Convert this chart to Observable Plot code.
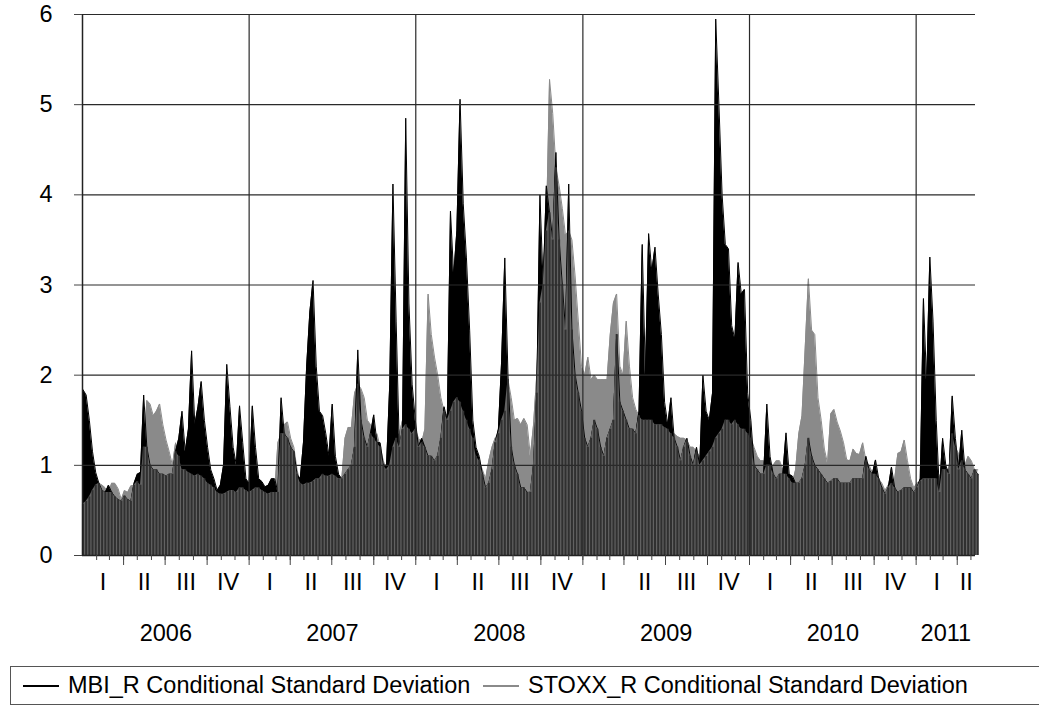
<!DOCTYPE html>
<html>
<head>
<meta charset="utf-8">
<script src="https://cdn.jsdelivr.net/npm/d3@7"></script>
<script src="https://cdn.jsdelivr.net/npm/@observablehq/plot@0.6"></script>
<style>
  body { margin: 0; background: #fff; font-family: Arial, "Liberation Sans", sans-serif; }
  #chart { position: absolute; left: 0; top: 0; }
  #legend { position: absolute; left: 10px; top: 666px; width: 1040px; height: 39px;
            border: 1px solid #555; box-sizing: border-box; font-size: 23.5px; color: #000; }
  .item { position: absolute; top: 0; height: 37px; display: flex; align-items: center; white-space: nowrap; }
  .swatch { display: inline-block; width: 36px; height: 0; border-top: 2px solid #000; margin-right: 9px; }
</style>
</head>
<body>
<div id="chart"></div>
<div id="legend">
  <div class="item" style="left:12px"><span class="swatch" style="border-color:#000"></span><span id="l1"></span></div>
  <div class="item" style="left:472px"><span class="swatch" style="border-color:#8a8a8a"></span><span id="l2"></span></div>
</div>
<script>
// Weekly readings, first week starting 2006-01-02
const firstWeek = "2006-01-02";
const mbi = [
1.84,1.78,1.5,1.15,0.92,0.8,0.72,0.7,0.78,0.7,
0.65,0.62,0.6,0.66,0.62,0.6,0.8,0.9,0.92,1.78,
1.2,1.0,0.95,0.95,0.9,0.9,0.88,0.9,0.9,1.15,
1.3,1.6,1.15,1.4,2.27,1.45,1.65,1.93,1.5,1.2,
0.95,0.85,0.72,0.78,1.0,2.12,1.65,1.2,1.0,1.66,
1.25,0.85,0.8,1.66,1.2,0.85,0.82,0.76,0.78,0.85,
0.85,0.7,1.75,1.35,1.3,1.2,1.15,0.9,0.85,1.25,
2.1,2.7,3.05,2.1,1.6,1.55,1.35,1.1,1.68,1.1,
0.9,0.85,0.9,0.95,1.0,1.2,2.28,1.5,1.3,1.2,
1.35,1.56,1.25,1.25,1.0,1.0,1.9,4.12,2.6,1.2,
1.4,4.85,2.8,1.9,1.5,1.2,1.3,1.2,1.1,1.1,
1.05,1.1,1.3,1.65,1.5,3.82,3.1,3.6,5.06,3.9,
3.3,2.5,1.5,1.2,1.1,0.9,0.75,0.8,0.95,1.25,
1.4,2.15,3.3,2.0,1.2,1.0,0.9,0.75,0.75,0.7,
0.7,1.0,1.8,4.0,3.0,4.1,3.8,3.5,4.47,3.5,
3.0,2.5,4.12,2.5,2.0,1.8,1.6,1.3,1.2,1.3,
1.5,1.4,1.2,1.1,1.3,1.4,1.5,2.45,1.7,1.6,
1.5,1.4,1.4,1.35,1.6,3.45,2.0,3.57,3.15,3.42,
2.9,2.45,1.7,1.45,1.75,1.3,1.2,1.05,1.2,1.3,
1.1,1.0,1.2,1.0,2.0,1.6,1.5,1.8,5.95,5.0,
4.0,3.45,3.4,2.55,2.4,3.25,2.9,2.95,1.8,1.5,
1.0,0.95,0.9,0.9,1.68,1.1,0.9,0.85,0.9,0.9,
1.36,0.9,0.88,0.8,0.8,0.85,1.0,1.3,1.1,1.0,
0.95,0.9,0.85,0.8,0.82,0.85,0.85,0.8,0.8,0.8,
0.8,0.85,0.85,0.85,0.85,1.1,0.95,0.9,1.06,0.85,
0.75,0.68,0.75,0.98,0.75,0.7,0.72,0.75,0.75,0.75,
0.7,0.75,0.85,2.85,1.9,3.31,2.6,1.5,0.7,1.3,
1.0,0.9,1.77,1.3,0.95,1.39,0.95,0.9,0.85,0.95,
0.9];
const stoxx = [
0.57,0.6,0.65,0.72,0.78,0.8,0.78,0.75,0.7,0.8,
0.8,0.74,0.62,0.72,0.7,0.77,0.78,0.82,0.78,1.2,
1.72,1.68,1.55,1.6,1.68,1.45,1.28,1.15,1.0,1.25,
1.1,0.95,0.95,0.92,0.9,0.88,0.9,0.88,0.85,0.8,
0.78,0.75,0.7,0.68,0.68,0.7,0.72,0.72,0.7,0.75,
0.75,0.72,0.7,0.72,0.75,0.75,0.72,0.7,0.68,0.7,
0.7,1.25,1.35,1.45,1.48,1.3,1.2,0.95,0.8,0.78,
0.8,0.8,0.82,0.85,0.85,0.9,0.88,0.88,0.9,0.88,
0.85,0.85,1.3,1.42,1.42,1.8,1.9,1.85,1.75,1.5,
1.45,1.3,1.35,1.2,1.05,0.95,1.0,1.2,1.3,1.35,
1.5,1.45,1.4,1.35,1.4,1.3,1.25,1.4,2.9,2.45,
2.2,2.0,1.75,1.6,1.55,1.6,1.7,1.75,1.7,1.6,
1.5,1.4,1.3,1.1,1.05,0.95,0.85,1.05,1.2,1.3,
1.35,1.5,1.6,1.95,1.75,1.5,1.52,1.45,1.52,1.45,
1.1,1.45,2.0,2.8,3.2,3.6,5.28,4.9,4.3,4.1,
3.85,3.55,3.6,3.5,3.1,2.6,2.1,2.0,2.2,1.95,
2.0,1.95,1.95,1.95,1.95,2.45,2.8,2.9,2.1,2.0,
2.6,2.1,1.75,1.62,1.55,1.5,1.5,1.5,1.5,1.45,
1.45,1.45,1.42,1.4,1.35,1.35,1.32,1.3,1.3,1.28,
1.2,1.2,1.15,1.1,1.05,1.1,1.15,1.2,1.3,1.35,
1.4,1.5,1.5,1.45,1.5,1.45,1.4,1.4,1.35,1.3,
1.2,1.1,1.05,1.05,1.0,1.0,1.0,1.05,1.05,0.95,
0.9,0.85,0.8,0.95,1.35,1.55,2.3,3.07,2.5,2.45,
1.75,1.5,1.18,1.02,1.57,1.62,1.48,1.38,1.25,1.06,
1.05,1.18,1.13,1.12,1.25,1.05,1.0,0.92,0.9,0.85,
0.8,0.72,0.78,0.8,0.85,1.13,1.15,1.28,1.05,0.85,
0.75,0.8,0.82,0.85,0.85,0.85,0.85,0.85,0.88,0.95,
0.95,0.95,1.35,1.2,1.13,1.05,1.0,1.1,1.05,0.95,
0.95];
const yTicks = [0, 1, 2, 3, 4, 5, 6];
const years = [2006, 2007, 2008, 2009, 2010, 2011];
const quarterNames = ["I", "II", "III", "IV"];
const domainStart = "2006-01-01";
const domainEnd = "2011-05-11";
const seriesNames = ["MBI_R Conditional Standard Deviation", "STOXX_R Conditional Standard Deviation"];

document.getElementById("l1").textContent = seriesNames[0];
document.getElementById("l2").textContent = seriesNames[1];

const d0 = new Date(domainStart), d1 = new Date(domainEnd);
const w0 = new Date(firstWeek);
const data = mbi.map((v, i) => ({
  date: d3.utcDay.offset(w0, 7 * i),
  mbi: v, stoxx: stoxx[i], low: Math.min(v, stoxx[i])
}));

const clampCenter = (a, b) => {
  const s = Math.max(+a, +d0), e = Math.min(+b, +d1);
  return new Date((s + e) / 2);
};
const quarterLabels = [];
for (const y of years) for (let q = 0; q < 4; q++) {
  const a = new Date(Date.UTC(y, 3 * q, 1)), b = new Date(Date.UTC(y, 3 * q + 3, 1));
  if (a < d1) quarterLabels.push({date: clampCenter(a, b), label: quarterNames[q]});
}
const yearLabels = years.map(y => ({date: clampCenter(new Date(Date.UTC(y, 0, 1)), new Date(Date.UTC(y + 1, 0, 1))), label: String(y)}));
const yearStarts = years.slice(1).map(y => new Date(Date.UTC(y, 0, 1)));
const months = d3.utcMonth.range(d3.utcDay.offset(d0, 1), d1);
const quarters = d3.utcMonth.every(3).range(d3.utcDay.offset(d0, 1), d1);

const font = "Arial, 'Liberation Sans', sans-serif";
const chart = Plot.plot({
  width: 1039, height: 655,
  marginTop: 14, marginBottom: 100, marginLeft: 82, marginRight: 64,
  style: {fontFamily: font, fontSize: "23.5px", background: "#fff", color: "#000", overflow: "visible"},
  x: {type: "utc", domain: [d0, d1]},
  y: {domain: [0, 6]},
  marks: [
    Plot.areaY(data, {x: "date", y: "stoxx", fill: "#8a8a8a"}),
    Plot.lineY(data, {x: "date", y: "stoxx", stroke: "#8a8a8a", strokeWidth: 1}),
    Plot.areaY(data, {x: "date", y: "mbi", fill: "#000"}),
    Plot.lineY(data, {x: "date", y: "mbi", stroke: "#000", strokeWidth: 1}),
    Plot.areaY(data, {x: "date", y: "low", fill: "#626262"}),
    Plot.ruleX(data, {x: "date", y1: 0, y2: "low", stroke: "#303030", strokeWidth: 2}),
    Plot.ruleY(yTicks.slice(1), {stroke: "#2a2a2a", strokeWidth: 1.2}),
    Plot.ruleX(yearStarts, {y1: 0, y2: 6, stroke: "#2a2a2a", strokeWidth: 1.2}),
    Plot.ruleX([d0], {y1: 0, y2: 6, stroke: "#222", strokeWidth: 1.5}),
    Plot.ruleY([0], {stroke: "#222", strokeWidth: 1.5}),
    Plot.axisY(yTicks, {tickSize: 8, tickPadding: 22, fontSize: 23.5, tickFormat: d3.format("d"), label: null, stroke: "#444"}),
    Plot.axisX(months, {tickSize: 5, tickFormat: () => "", label: null, stroke: "#444"}),
    Plot.axisX(quarters, {tickSize: 10, tickFormat: () => "", label: null, stroke: "#444"}),
    Plot.text(quarterLabels, {x: "date", y: () => 0, text: "label", dy: 27, fontSize: 23.5, lineAnchor: "middle"}),
    Plot.text(yearLabels, {x: "date", y: () => 0, text: "label", dy: 78, fontSize: 23.5, lineAnchor: "middle"})
  ]
});
document.getElementById("chart").appendChild(chart);
</script>
</body>
</html>
